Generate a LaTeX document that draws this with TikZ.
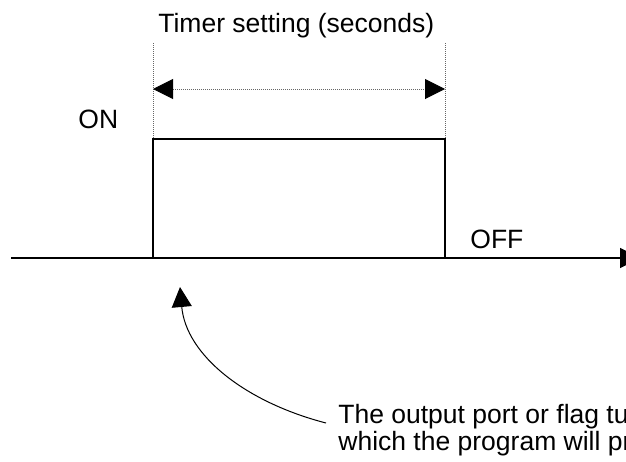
\documentclass[tikz,border=0pt]{standalone}
\usepackage{fontspec}
\setmainfont{Liberation Sans}
\usetikzlibrary{arrows.meta,positioning}

\begin{document}
\begin{tikzpicture}[
        x=0.5pt, y=-0.5pt,
        >={Triangle[length=10pt, width=10pt, black]},
        lbl/.style={inner sep=0pt, anchor=base west, font=\fontsize{13.25}{13.5}\selectfont},
        wave/.style={draw, line width=0.6pt},
        guide/.style={draw=black!60, dash pattern=on 0.5pt off 0.5pt, line width=0.5pt}
      ]
      \useasboundingbox (0,0) rectangle (626,461);
      \clip (0,0) rectangle (626,461);
      % time axis and pulse
      \coordinate (axstart) at (11,258);
      \coordinate (axend) at (640,258);
      \coordinate (rise) at (153,258);
      \coordinate (fall) at (445,258);
      \coordinate (riseTop) at (153,139);
      \coordinate (fallTop) at (445,139);
      \draw[wave, line width=0.8pt, ->] (axstart) -- (axend);
      \draw[wave] (rise) -- (riseTop) -- (fallTop) -- (fall);
      % timer span
      \coordinate (guideL) at (153,43);
      \coordinate (guideR) at (445,43);
      \coordinate (spanL) at (153,89);
      \coordinate (spanR) at (445,89);
      \draw[guide] (guideL) -- (riseTop);
      \draw[guide] (guideR) -- (fallTop);
      \draw[guide, <->] (spanL) -- (spanR);
      \node[lbl] (title) at (158,32) {Timer setting (seconds)};
      \node[lbl] (on) at (78,128) {ON};
      \node[lbl] (off) at (470,248) {OFF};
      % note with curved pointer
      \node[lbl, align=left] (note) at (338,450) {The output port or flag tu\\which the program will pr};
      \coordinate (tail) at (326,423);
      \coordinate (tip) at (180,287);
      \draw[line width=0.5pt, ->] (tail) .. controls (245,402) and (186,355) .. (tip);
    \end{tikzpicture}
\end{document}
